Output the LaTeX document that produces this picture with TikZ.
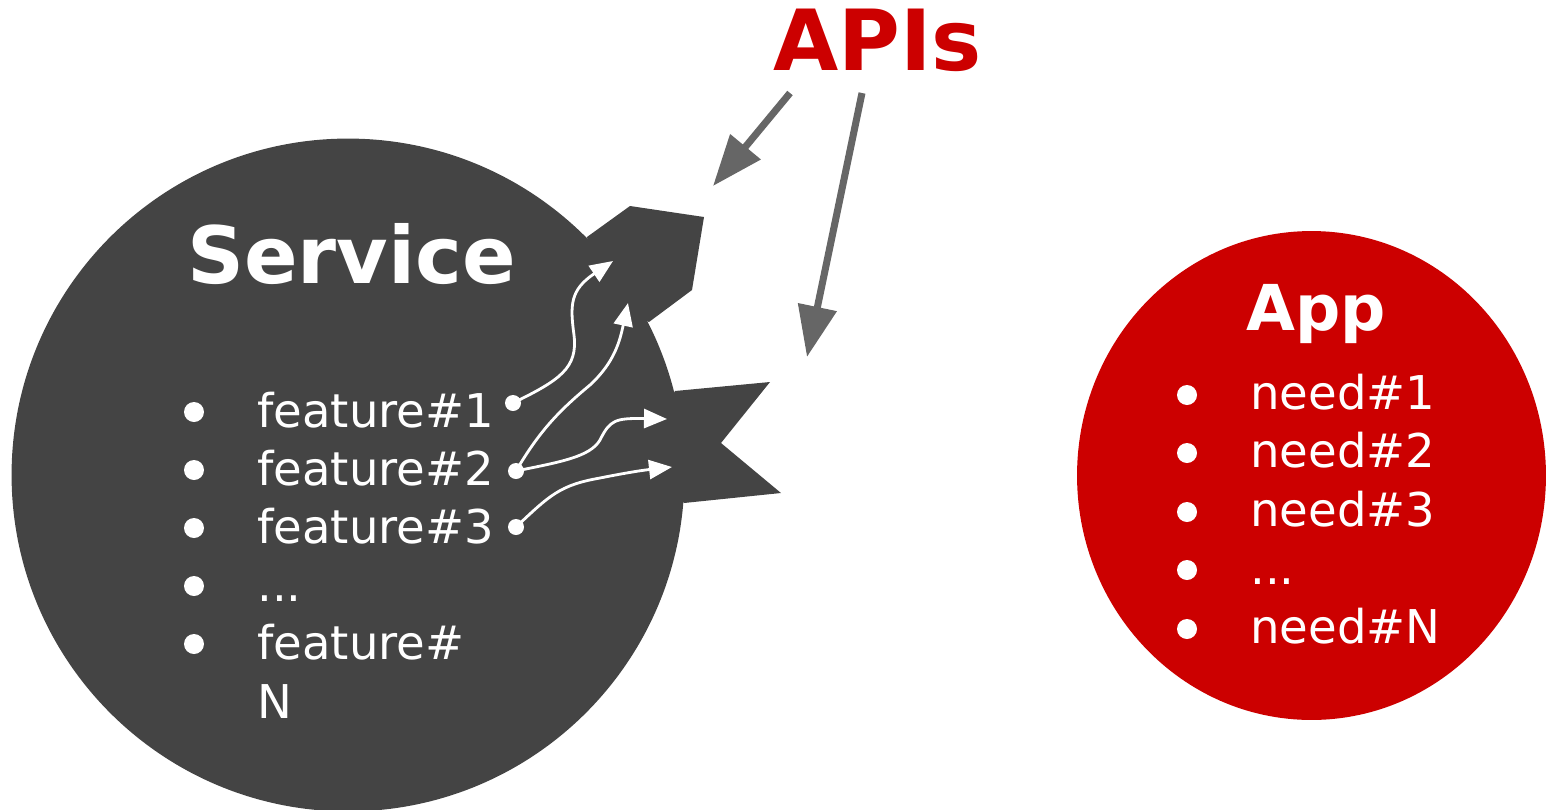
\documentclass[tikz,border=0pt]{standalone}
\usepackage{fontspec}
\setmainfont{DejaVu Sans}
\usetikzlibrary{arrows.meta}
\definecolor{svcgray}{HTML}{444444}
\definecolor{apired}{HTML}{CC0000}
\definecolor{apigray}{HTML}{666666}
\newcommand{\moredots}{...}
\tikzset{
	title/.style={anchor=base west, inner sep=0pt, text=white, font=\bfseries\fontsize{45}{54}\selectfont},
	item/.style={anchor=base west, inner sep=0pt, text=white, font=\fontsize{26.5}{31}\selectfont},
	bullet/.style={circle, fill=white, minimum size=0.4cm, inner sep=0pt},
	dot/.style={circle, fill=white, minimum size=0.32cm, inner sep=0pt},
	wire/.style={white, line width=1.6pt, -{Triangle[length=0.46cm,width=0.38cm]}},
	apiarrow/.style={apigray, line width=4pt, -{Triangle[length=1.02cm,width=0.76cm]}}
}

\begin{document}
\begin{tikzpicture}[x=0.02cm, y=-0.02cm]
		\useasboundingbox (0,0) rectangle (1546,809);
		% Service blob with its two bursts.
		\fill[svcgray] (348,475) circle [radius=6.73cm];
		\fill[svcgray] (587,237) -- (630,206) -- (704,217) -- (692,290) -- (649,322) -- (600,300) -- cycle;
		\fill[svcgray] (675,391) -- (770,382) -- (721,443) -- (781,493) -- (684,503) -- (640,450) -- cycle;
		% App blob.
		\fill[apired] (1311.5,475.5) ellipse [x radius=4.69cm, y radius=4.89cm];
		
		% Titles.
		\node[title] (service) at (187,283) {Service};
		\node[title, text=apired, font=\bfseries\fontsize{48}{58}\selectfont] (apis) at (773,70) {APIs};
		\node[title, font=\bfseries\fontsize{36}{43}\selectfont] (app) at (1246,330) {App};
		
		% Feature list.
		\foreach \y/\txt [count=\i] in {427/feature\#1, 485/feature\#2, 543/feature\#3, 601/\moredots, 659/feature\#}
		{
			\node[bullet] (sb\i) at (194,\y-15) {};
			\node[item] (feat\i) at (257,\y) {\txt};
		}
		\node[item] (featN) at (257,718) {N};
		
		% Need list.
		\foreach \y/\txt [count=\i] in {409/need\#1, 467/need\#2, 526/need\#3, 584/\moredots, 643/need\#N}
		{
			\node[bullet] (ab\i) at (1187,\y-14) {};
			\node[item] (need\i) at (1250,\y) {\txt};
		}
		
		% Feature connectors.
		\node[dot] (f1) at (513,403) {};
		\node[dot] (f2) at (516,471) {};
		\node[dot] (f3) at (516,527) {};
		\coordinate (t1) at (613,261);
		\coordinate (t2) at (628,303);
		\coordinate (t3) at (667,419);
		\coordinate (t4) at (672,467);
		\draw[wire] (f1.center) .. controls (560,380) and (578,368) .. (574,335) .. controls (570,305) and (570,290) .. (t1);
		\draw[wire] (f2.center) .. controls (540,430) and (560,410) .. (590,385) .. controls (615,362) and (620,340) .. (t2);
		\draw[wire] (f2.center) .. controls (560,462) and (590,457) .. (600,440) .. controls (610,420) and (615,418) .. (t3);
		\draw[wire] (f3.center) .. controls (550,495) and (560,485) .. (600,478) .. controls (630,472) and (645,470) .. (t4);
		
		% API arrows.
		\coordinate (a1) at (790,93);
		\coordinate (a2) at (862,93);
		\coordinate (h1) at (713,186);
		\coordinate (h2) at (807,357);
		\draw[apiarrow] (a1) -- (h1);
		\draw[apiarrow] (a2) -- (h2);
	\end{tikzpicture}
\end{document}
